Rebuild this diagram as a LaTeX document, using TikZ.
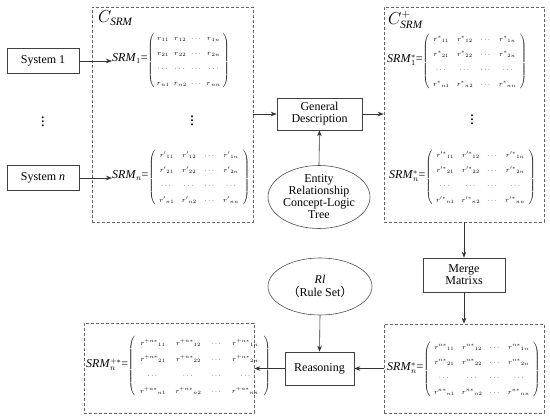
\documentclass[tikz,border=0pt]{standalone}
\usepackage{amsmath}
\usepackage{fontspec}
\setmainfont{Liberation Serif}
\newfontfamily\cjk{Noto Sans CJK SC}
\usetikzlibrary{arrows.meta,shapes.geometric}
\newcommand{\mymat}[3][1.35]{{\fontsize{7}{11}\selectfont\renewcommand\arraystretch{#1}\setlength\arraycolsep{#3}$\left(\begin{array}{cccc}
{r^{#2}}_{11} & {r^{#2}}_{12} & \cdots & {r^{#2}}_{1n}\\
{r^{#2}}_{21} & {r^{#2}}_{22} & \cdots & {r^{#2}}_{2n}\\
\cdots & \cdots & \cdots & \cdots\\
{r^{#2}}_{n1} & {r^{#2}}_{n2} & \cdots & {r^{#2}}_{nn}
\end{array}\right)$}}
\tikzset{
  box/.style={draw=black!75, line width=0.6pt, rectangle, inner sep=0pt, font=\fontsize{12}{14}\selectfont, align=center},
  dbox/.style={draw=black!60, line width=0.6pt, dash pattern=on 3pt off 2pt, rectangle, inner sep=0pt},
  ell/.style={draw=black!70, line width=0.6pt, ellipse, inner sep=0pt, font=\fontsize{12}{14}\selectfont, align=center},
  arr/.style={draw=black!80, line width=0.6pt, -{Stealth[length=6pt,width=4.5pt]}},
  mat/.style={inner sep=0pt, anchor=west, font=\fontsize{12}{14}\selectfont},
  dots/.style={inner sep=0pt, font=\fontsize{16}{16}\selectfont},
  clab/.style={inner sep=0pt, anchor=west, font=\fontsize{16}{16}\selectfont}
}
\begin{document}
\begin{tikzpicture}[x=1pt,y=-1pt]
\useasboundingbox (0,0) rectangle (550,419);
% left column
\node[box, minimum width=72, minimum height=25] (s1) at (43,61) {System 1};
\node[box, minimum width=72, minimum height=25] (sn) at (43,178) {System \textit{n}};
\node[dots] (d0) at (43,119) {$\vdots$};
% left dashed box
\node[dbox, minimum width=161, minimum height=215] (cl) at (172.5,114.5) {};
\node[clab] (cll) at (98,18) {$C_{\mathit{SRM}}$};
\node[mat] (m1) at (112,60) {\textit{SRM}$_{1}$=\mymat{}{2.2pt}};
\node[dots] (d1) at (192,118) {$\vdots$};
\node[mat] (mn) at (112,177) {\textit{SRM}$_{n}$=\mymat{\prime}{3.8pt}};
% center
\node[box, minimum width=85, minimum height=32] (gd) at (319.5,114) {General\\[-2pt]Description};
\node[ell, minimum width=102, minimum height=63] (er) at (319,197) {Entity\\[-2pt]Relationship\\[-2pt]Concept-Logic\\[-2pt]Tree};
% right dashed box
\node[dbox, minimum width=160, minimum height=215] (cr) at (464,114.5) {};
\node[clab] (crl) at (388,20) {$C^{+}_{\mathit{SRM}}$};
\node[mat] (p1) at (387,61) {\textit{SRM}$^{*}_{1}$=\mymat{*}{3.6pt}};
\node[dots] (d2) at (472,117) {$\vdots$};
\node[mat] (pn) at (389,177) {\textit{SRM}$^{*}_{n}$=\mymat{\prime *}{3.5pt}};
% merge
\node[box, minimum width=82, minimum height=34] (mm) at (464,275) {Merge\\[-2pt]Matrixs};
% bottom right dashed box
\node[dbox, minimum width=160, minimum height=89] (br) at (464,368.5) {};
\node[mat] (q) at (387,369) {\textit{SRM}$^{*}_{n}$=\mymat{n*}{3.5pt}};
% reasoning
\node[box, minimum width=69, minimum height=33] (rs) at (319.5,368.5) {Reasoning};
\node[ell, minimum width=104, minimum height=57] (rl) at (320,286.5) {\textit{Rl}\\[-1pt]{\cjk （}Rule Set{\cjk ）}};
% bottom left dashed box
\node[dbox, minimum width=170, minimum height=90] (bl) at (169,368) {};
\node[mat] (b) at (86,366) {\textit{SRM}$^{+*}_{n}$=\mymat[1.45]{+n*}{4.8pt}};
% connectors
\draw[arr] (s1.east) -- (s1.east -| m1.west);
\draw[arr] (sn.east) -- (sn.east -| mn.west);
\draw[arr] (cl.east |- gd.west) -- (gd.west);
\draw[arr] (gd.east) -- (gd.east -| cr.west);
\draw[arr] (er.north) -- (gd.south);
\draw[arr] (cr.south) -- (mm.north);
\draw[arr] (mm.south) -- (br.north);
\draw[arr] (br.west) -- (rs.east);
\draw[arr] (rl.south) -- (rs.north);
\draw[arr] (rs.west) -- (rs.west -| bl.east);
\end{tikzpicture}
\end{document}
